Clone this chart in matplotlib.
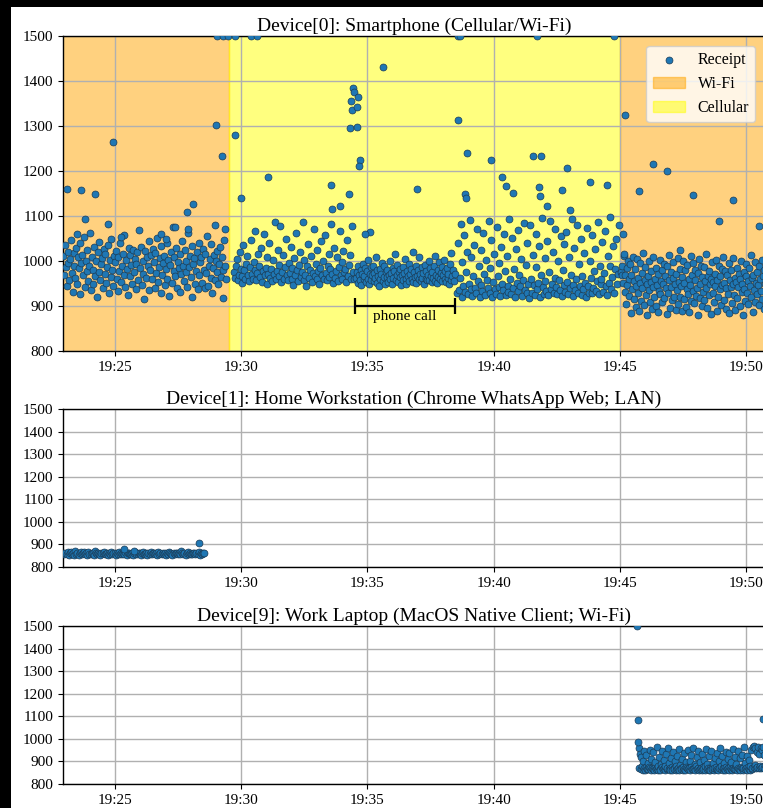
import numpy as np
import matplotlib
matplotlib.use("Agg")
import matplotlib.pyplot as plt
from matplotlib.patches import Rectangle
from matplotlib.ticker import FuncFormatter

plt.rcParams['font.family'] = ['Liberation Serif', 'DejaVu Serif']

# ---------------- data (time in minutes after 19:00, value in ms) ----------------
titles = [
    "Device[0]: Smartphone (Cellular/Wi-Fi)",
    "Device[1]: Home Workstation (Chrome WhatsApp Web; LAN)",
    "Device[9]: Work Laptop (MacOS Native Client; Wi-Fi)",
]
x_ticks = [25, 30, 35, 40, 45, 50]
y_ticks = [800, 900, 1000, 1100, 1200, 1300, 1400, 1500]

# connectivity of device 0: (start, end, kind)
network_periods = [(22.0, 29.52, "Wi-Fi"), (29.52, 45.0, "Cellular"), (45.0, 52.0, "Wi-Fi")]
phone_call = (34.5, 38.45)

# device 0, regular receipts per period (span of times, values)
d0_wifi1_span = (22.95, 29.40)
d0_wifi1 = [
    1012, 968, 1035, 987, 944, 1021, 995, 958, 1004, 1046, 973, 931, 1017, 989, 962, 1028, 950, 1008, 984, 1039,
    927, 996, 1013, 969, 1053, 942, 1001, 977, 1024, 955, 990, 1062, 936, 1010, 981, 948, 1031, 966, 999, 920,
    1019, 975, 1042, 958, 993, 1006, 939, 1027, 971, 1015, 952, 986, 1036, 929, 1003, 964, 1048, 980, 945, 1011,
    997, 1023, 961, 934, 1009, 978, 1040, 953, 988, 1016, 970, 1058, 943, 1002, 983, 925, 1030, 967, 1014, 991,
    949, 1025, 976, 1005, 938, 994, 1019, 957, 1070, 985, 1032, 947, 1000, 972, 915, 1022, 963, 1008, 990, 1044,
    935, 979, 1013, 959, 1027, 998, 941, 1018, 974, 1051, 954, 987, 1007, 928, 1034, 969, 995, 1012, 946, 982,
    1039, 960, 1003, 923, 992, 1020, 951, 1076, 977, 1010, 966, 1029, 940, 998, 984, 1015, 932, 971, 1045, 989,
    956, 1024, 975, 1001, 943, 1063, 986, 1011, 964, 921, 1033, 993, 1006, 950, 978, 1019, 937, 1041, 968, 997,
    1009, 952, 1026, 981, 939, 1016, 973, 1055, 945, 990, 1004, 962, 1037, 930, 985, 1014, 958, 1000, 976, 1023,
    948, 993, 1031, 965, 1008, 918, 979, 1047, 988, 960,
]
d0_cell1_span = (29.72, 34.45)
d0_cell1 = [
    975, 962, 988, 1004, 958, 970, 1021, 983, 951, 966, 1036, 979, 960, 993, 1012, 968, 955, 987, 1047, 972,
    961, 998, 980, 1066, 957, 974, 1015, 990, 964, 1028, 953, 977, 1059, 969, 985, 949, 1009, 972, 1041, 963,
    982, 956, 1002, 971, 1087, 959, 978, 1024, 966, 992, 1077, 954, 975, 1013, 961, 987, 1050, 968, 957, 996,
    973, 1032, 960, 984, 947, 1006, 969, 1062, 979, 955, 991, 1019, 964, 976, 1086, 958, 1003, 970, 945, 988,
    1038, 962, 980, 1011, 953, 974, 1071, 966, 994, 959, 1025, 977, 950, 985, 1044, 968, 1000, 961, 1057, 973,
    958, 990, 1016, 965, 982, 1083, 971, 952, 1030, 963, 978, 1008, 956, 987, 1067, 969, 998, 960, 1022, 975,
    983, 954, 1047, 967, 992, 1014, 959, 1078, 976, 961,
]
d0_call_span = (34.55, 38.45)
d0_call = [
    962, 975, 951, 988, 968, 957, 980, 946, 971, 993, 959, 966, 984, 953, 977, 1002, 961, 949, 972, 986,
    958, 969, 990, 955, 974, 963, 1010, 952, 979, 967, 945, 983, 960, 971, 996, 956, 965, 988, 950, 976,
    964, 981, 954, 970, 999, 959, 973, 948, 985, 962, 977, 1015, 957, 968, 991, 953, 975, 964, 982, 947,
    969, 987, 958, 973, 1005, 961, 950, 978, 966, 994, 956, 972, 983, 960, 1020, 954, 976, 965, 989, 952,
    967, 980, 959, 1008, 971, 955, 986, 963, 974, 949, 992, 961, 978, 957, 969, 1001, 958, 984, 966, 953,
    975, 962, 990, 956, 1012, 970, 951, 981, 964, 997, 959, 973, 955, 987, 968, 1003, 960, 977, 954, 985,
    963, 972, 950, 994, 958, 1018, 966, 980, 955, 971,
]
d0_cell2_span = (38.55, 44.95)
d0_cell2 = [
    928, 1041, 935, 962, 1083, 921, 998, 944, 1057, 931, 976, 1019, 926, 950, 1092, 938, 1008, 923, 967, 1036,
    941, 929, 1071, 955, 990, 919, 1024, 947, 934, 1063, 972, 925, 1002, 958, 940, 1088, 930, 985, 1047, 921,
    953, 1015, 937, 927, 1076, 966, 943, 995, 922, 1031, 949, 936, 1059, 978, 924, 1011, 945, 932, 1094, 960,
    926, 1052, 939, 983, 920, 1027, 951, 933, 1068, 970, 944, 1004, 923, 957, 1085, 935, 992, 928, 1039, 948,
    918, 1079, 961, 930, 1014, 946, 925, 1061, 987, 938, 952, 1033, 921, 969, 1096, 942, 927, 1006, 955, 934,
    1045, 924, 975, 1089, 937, 950, 1021, 929, 963, 1072, 943, 926, 999, 958, 936, 1055, 922, 981, 1037, 947,
    931, 1065, 954, 927, 1010, 940, 968, 1093, 923, 946, 1028, 935, 959, 1081, 929, 994, 944, 1049, 925, 966,
    938, 1017, 952, 921, 1074, 945, 930, 1001, 962, 928, 1058, 941, 977, 1026, 934, 956, 1087, 926, 989, 949,
    960, 1042, 932, 973, 1066, 944, 924, 1012, 951, 990, 1098, 937, 965, 1034, 928, 983, 1050, 948, 971, 1079,
]
d0_wifi2_span = (45.05, 50.75)
d0_wifi2 = [
    975, 968, 990, 952, 1012, 931, 968, 905, 984, 947, 1001, 922, 959, 993, 884, 970, 938, 1010, 916, 956,
    982, 897, 944, 1005, 928, 963, 888, 951, 996, 912, 973, 940, 1017, 903, 958, 986, 924, 949, 879, 967,
    935, 999, 910, 953, 977, 893, 942, 1008, 919, 961, 985, 901, 946, 972, 887, 933, 1003, 926, 955, 980,
    908, 950, 994, 917, 966, 939, 882, 989, 929, 957, 1013, 896, 943, 976, 913, 962, 998, 921, 948, 891,
    971, 936, 1006, 904, 954, 983, 920, 945, 890, 965, 1000, 915, 952, 979, 898, 937, 992, 927, 960, 886,
    947, 1011, 911, 969, 934, 995, 906, 958, 981, 923, 941, 880, 974, 1004, 918, 950, 988, 900, 964, 932,
    987, 914, 956, 940, 1015, 895, 967, 925, 978, 949, 883, 961, 997, 930, 953, 909, 972, 944, 1002, 889,
    958, 921, 990, 937, 966, 902, 983, 946, 1009, 913, 951, 978, 894, 939, 969, 926, 996, 885, 957, 942,
    980, 907, 948, 1007, 924, 963, 892, 954, 985, 918, 943, 972, 899, 960, 1001, 931, 950, 881, 976, 938,
    912, 967, 993, 928, 955, 904, 984, 945, 1014, 920, 962, 887, 970, 936, 998, 910, 952, 975, 927, 946,
    989, 903, 959, 934, 1003, 916, 966, 893, 981, 949,
]
# device 0, slow receipts (values above 1500 are pinned to the top edge)
d0_slow_t = [
    23.11, 23.65, 24.20, 23.80, 24.71, 24.93, 27.84, 28.10, 27.38, 27.90, 28.96, 29.36, 23.48, 26.83, 25.24,
    27.01, 29.00, 29.25, 29.04, 29.28, 29.48, 29.75, 30.39, 30.63,
    31.06, 30.00, 33.56, 34.27, 33.61, 33.91, 34.42, 34.48, 34.35, 34.64, 34.40, 34.60, 34.31, 34.58,
    34.71, 34.67, 35.61, 29.77, 35.10, 34.90, 36.95,
    38.59, 38.95, 39.89, 41.57, 41.87, 42.92, 40.35, 40.49, 40.78, 41.80, 41.83, 42.12, 42.72, 43.01,
    43.81, 44.49, 38.88, 38.91, 38.59, 38.67, 41.72, 44.77,
    45.22, 46.30, 46.86, 45.77, 47.90, 49.49, 48.94, 50.53, 45.11, 47.40, 45.18,
]
d0_slow_v = [
    1159, 1158, 1149, 1093, 1082, 1265, 1110, 1127, 1075, 1071, 1081, 1072, 1060, 1059, 1054,
    1049, 1302, 1234, 1500, 1500, 1500, 1500, 1500, 1500,
    1187, 1139, 1170, 1150, 1115, 1123, 1384, 1376, 1356, 1364, 1335, 1343, 1296, 1297,
    1225, 1211, 1432, 1281, 1065, 1061, 1161,
    1313, 1241, 1225, 1233, 1233, 1207, 1187, 1166, 1151, 1164, 1144, 1123, 1157, 1113,
    1176, 1170, 1149, 1141, 1500, 1500, 1500, 1500,
    1324, 1216, 1200, 1155, 1147, 1136, 1090, 1078, 1060, 1024, 1016,
]

# device 1
d1_span = (22.95, 28.53)
d1 = [
    861, 856, 864, 858, 868, 853, 860, 866, 857, 862, 855, 870, 859, 863, 854, 861, 867, 856, 860, 865,
    858, 862, 854, 866, 859, 857, 863, 860, 855, 869, 861, 856, 864, 858, 853, 862, 860, 866, 857, 859,
    863, 855, 861, 858, 867, 856, 860, 864, 854, 862, 859, 865, 857, 861, 856, 863, 858, 868, 855, 860,
    862, 857, 859, 864, 853, 861, 866, 858, 856, 863, 860, 855, 862, 867, 857, 859, 864, 854, 861, 858,
    865, 856, 860, 863, 857, 862, 855, 868, 859, 861, 856, 864, 858, 860, 854, 863, 857, 866, 861, 859,
    855, 862, 858, 864, 860, 857, 863, 856, 869, 861, 858, 862, 854, 860, 865, 857, 863, 859, 856, 864,
    860, 857, 863, 858, 866, 855, 861, 859, 864, 862,
]
d1_slow_t = [28.33, 25.36, 25.76]
d1_slow_v = [905, 878, 872]

# device 9
d9_span = (45.75, 50.75)
d9 = [
    960, 872, 935, 866, 918, 878, 864, 903, 870, 945, 862, 874, 927, 868, 895, 865, 876, 952, 869, 863,
    910, 873, 867, 940, 861, 877, 898, 866, 871, 963, 864, 880, 921, 868, 862, 889, 875, 948, 866, 870,
    907, 863, 879, 931, 867, 872, 958, 865, 893, 869, 861, 915, 876, 864, 942, 870, 867, 901, 862, 878,
    925, 866, 873, 955, 863, 886, 871, 868, 912, 864, 877, 938, 866, 862, 896, 874, 869, 950, 865, 872,
    904, 861, 876, 929, 868, 865, 961, 870, 890, 863, 879, 919, 867, 873, 944, 862, 866, 899, 871, 864,
    933, 875, 868, 908, 862, 878, 953, 866, 887, 872, 864, 922, 869, 861, 947, 874, 867, 894, 863, 870,
    916, 865, 877, 939, 868, 863, 902, 871, 959, 866, 880, 926, 862, 873, 891, 869, 864, 943, 876, 867,
    909, 870, 862, 936, 874, 866, 897, 863, 956, 871, 868, 920, 865, 878, 888, 862, 873, 946, 867, 864,
    913, 876, 869, 930, 863, 872, 965, 866, 892, 870, 861, 924, 875, 868, 905, 864, 879, 951, 866, 871,
    962, 874, 967, 885, 958, 870, 941, 877, 966, 869, 935, 880, 960, 872, 949, 876, 964, 871, 928, 882,
]
d9_slow_t = [45.67, 45.70, 45.72, 50.66]
d9_slow_v = [1500, 1083, 985, 1088]


def receipts(spans_and_values, extra_t, extra_v):
    ts, vs = [], []
    for (t0, t1), vals in spans_and_values:
        ts.extend(np.linspace(t0, t1, len(vals)))
        vs.extend(vals)
    ts.extend(extra_t)
    vs.extend(extra_v)
    return np.array(ts), np.array(vs)


t0, v0 = receipts([(d0_wifi1_span, d0_wifi1), (d0_cell1_span, d0_cell1), (d0_call_span, d0_call),
                   (d0_cell2_span, d0_cell2), (d0_wifi2_span, d0_wifi2)], d0_slow_t, d0_slow_v)
t1, v1 = receipts([(d1_span, d1)], d1_slow_t, d1_slow_v)
t9, v9 = receipts([(d9_span, d9)], d9_slow_t, d9_slow_v)

# ---------------- figure ----------------
W, H = 763, 808
fig = plt.figure(figsize=(W / 100, H / 100), dpi=100, facecolor='black')
fig.patches.append(Rectangle((11 / W, 0), 1, 1 - 7 / H, transform=fig.transFigure,
                             facecolor='white', edgecolor='none', zorder=-10))

left, right = 63, 765
rows = [(36, 351), (409, 567), (626, 784)]
axes = [fig.add_axes([left / W, 1 - b / H, (right - left) / W, (b - t) / H]) for t, b in rows]

span_colors = {"Wi-Fi": "orange", "Cellular": "yellow"}
xlim = (22.94, 50.75)

for ax, title, (t, v) in zip(axes, titles, [(t0, v0), (t1, v1), (t9, v9)]):
    ax.set_xlim(*xlim)
    ax.set_ylim(800, 1500)
    ax.set_xticks(x_ticks)
    ax.set_yticks(y_ticks)
    ax.xaxis.set_major_formatter(FuncFormatter(lambda x, p: f"19:{int(round(x)):02d}"))
    ax.grid(True, color='#b0b0b0', linewidth=1.0, zorder=1)
    ax.set_axisbelow(True)
    ax.tick_params(labelsize=11, length=3.5, width=0.8)
    ax.set_title(title, fontsize=14, pad=4)
    for s in ax.spines.values():
        s.set_linewidth(1.0)
    ax.scatter(t, v, s=25, color='#1f77b4', edgecolors='#1b3b55', linewidths=0.5,
               zorder=3, label='Receipt')

ax = axes[0]
seen = set()
for a, b, kind in network_periods:
    lab = kind if kind not in seen else None
    seen.add(kind)
    ax.axvspan(a, b, color=span_colors[kind], alpha=0.5, zorder=0, label=lab)

ax.errorbar((phone_call[0] + phone_call[1]) / 2, 900, xerr=(phone_call[1] - phone_call[0]) / 2,
            color='black', lw=1.6, capsize=6, capthick=1.6, zorder=4)
ax.text((phone_call[0] + phone_call[1]) / 2, 891, "phone call", ha='center', va='top', fontsize=11, zorder=4)

handles, labels = ax.get_legend_handles_labels()
order = [labels.index(k) for k in ["Receipt", "Wi-Fi", "Cellular"]]
ax.legend([handles[i] for i in order], [labels[i] for i in order], loc='upper right',
          fontsize=11.5, scatterpoints=1, framealpha=0.8, borderaxespad=0.6)

fig.savefig("out.png", dpi=100, facecolor=fig.get_facecolor())
